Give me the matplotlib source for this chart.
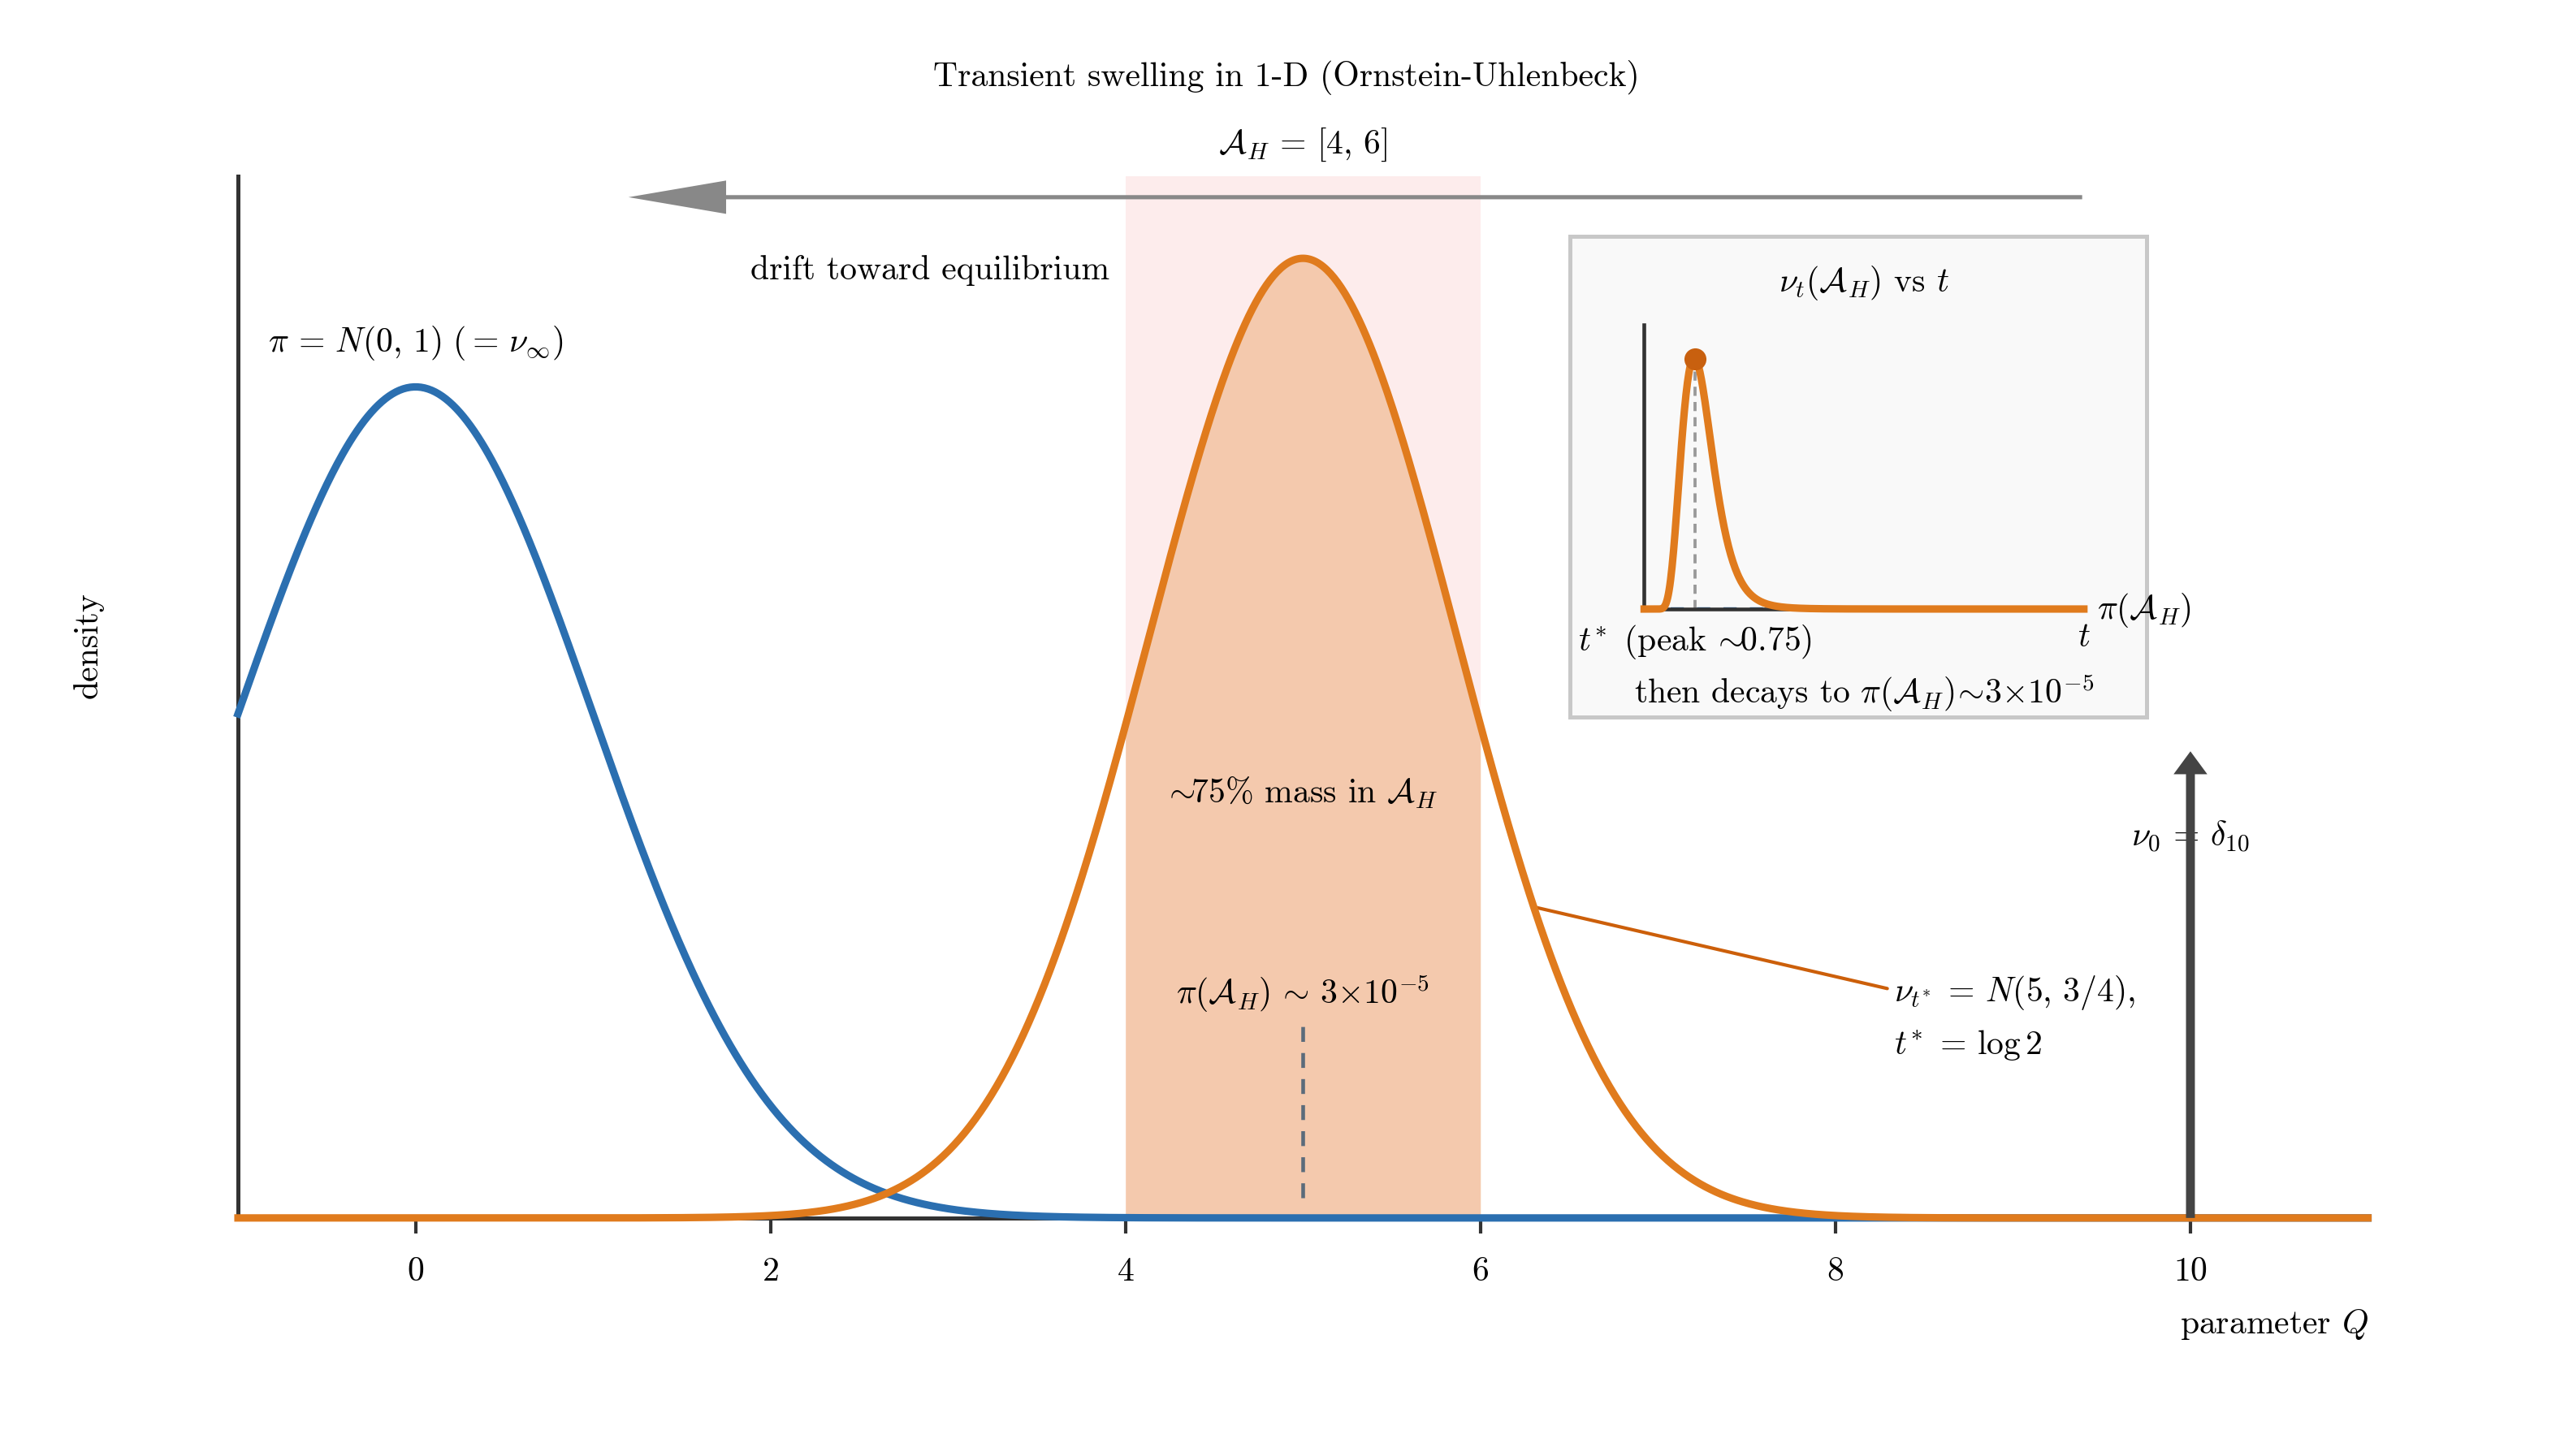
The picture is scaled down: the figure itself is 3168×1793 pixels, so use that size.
import math
import numpy as np
import matplotlib
matplotlib.use("Agg")
import matplotlib.pyplot as plt

plt.rcParams["font.family"] = "cmr10"
plt.rcParams["mathtext.fontset"] = "cm"
plt.rcParams["axes.formatter.use_mathtext"] = True
plt.rcParams["axes.unicode_minus"] = False
plt.rcParams["font.size"] = 10

# equilibrium and transient gaussians (mean, variance)
mu_eq, var_eq = 0.0, 1.0
mu_t, var_t = 5.0, 0.75
region = [4.0, 6.0]
x_start = 10.0          # nu_0 = delta_10
t_star = math.log(2)
peak_mass = 0.75
pi_region = 3e-5
x_ticks = [0, 2, 4, 6, 8, 10]

blue = "#2b6fb0"
orange = "#e07b1d"
dark = "#333333"


def normal_pdf(x, mu, var):
    return np.exp(-(x - mu) ** 2 / (2 * var)) / np.sqrt(2 * np.pi * var)


def ou_mass(t, lo, hi, x0):
    # probability of [lo, hi] under the OU law started at x0
    m = x0 * math.exp(-t)
    s = math.sqrt(1 - math.exp(-2 * t))
    cdf = lambda z: 0.5 * (1 + math.erf((z - m) / (s * math.sqrt(2))))
    return cdf(hi) - cdf(lo)


x = np.linspace(-1, 11, 1200)
y_eq = normal_pdf(x, mu_eq, var_eq)
y_t = normal_pdf(x, mu_t, var_t)

fig = plt.figure(figsize=(10.56, 5.9767), dpi=300)
ax = fig.add_axes([0.0925, 0.1635, 0.8278, 0.7869])

# shaded target set
ax.fill_between(region, 0, 0.5, color="#fdecec", lw=0, zorder=0)
xr = np.linspace(region[0], region[1], 200)
ax.fill_between(xr, 0, normal_pdf(xr, mu_t, var_t), color=orange, alpha=0.3, lw=0, zorder=1)

ax.plot(x, y_eq, color=blue, lw=2.2, clip_on=False, zorder=3)
ax.plot(x, y_t, color=orange, lw=2.2, clip_on=False, zorder=4)

ax.set_xlim(-1, 11)
ax.set_ylim(0, 0.55)
for s in ["top", "right"]:
    ax.spines[s].set_visible(False)
for s in ["left", "bottom"]:
    ax.spines[s].set_color(dark)
    ax.spines[s].set_linewidth(1.2)
ax.spines["left"].set_bounds(0, 0.5)
ax.set_yticks([])
ax.set_xticks(x_ticks)
ax.tick_params(axis="x", length=4.5, width=1.0, color=dark, pad=7)
ax.set_ylabel("density")
ax.yaxis.set_label_coords(-0.063, 0.5)
ax.set_xlabel("parameter $Q$", loc="right", labelpad=6)

# texts
fig.text(0.5, 0.947, "Transient swelling in 1-D (Ornstein-Uhlenbeck)", ha="center", va="center")
ax.text(5, 0.515, r"$\mathcal{A}_H\,=\,[4,\,6]$", ha="center", va="center")
ax.text(0, 0.42, r"$\pi\,=\,N(0,\,1)\ (=\,\nu_\infty)$", ha="center", va="center")
ax.text(2.9, 0.455, "drift toward equilibrium", ha="center", va="center")
ax.arrow(9.39, 0.49, 1.2 - 9.39, 0, width=0.002, head_width=0.016, head_length=0.55,
         length_includes_head=True, color="#888888", lw=0, zorder=5)

ax.text(5, 0.204, r"$\!\sim\!\!$75% mass in $\mathcal{A}_H$", ha="center", va="center", zorder=6)
ax.text(5, 0.108, r"$\pi(\mathcal{A}_H)\,\sim\,3{\times}10^{-5}$", ha="center", va="center", zorder=6)
ax.plot([5, 5], [0.0095, 0.092], color="#5b6b7b", lw=1.1, ls=(0, (4, 3)), zorder=6)

ax.annotate(r"$\nu_{t^{\!*}}\,=\,N(5,\,3/4),$" + "\n" + r"$t^{\!*}\,=\,\log 2$",
            xy=(6.3, normal_pdf(6.3, mu_t, var_t)), xytext=(8.33, 0.096),
            ha="left", va="center", linespacing=1.6,
            arrowprops=dict(arrowstyle="-", color="#cc5f0a", lw=1.0, shrinkA=0, shrinkB=0))

# dirac mass at the start
ax.text(x_start, 0.183, r"$\nu_0\,=\,\delta_{10}$", ha="center", va="center", zorder=6)
ax.arrow(x_start, 0, 0, 0.224, width=0.05, head_width=0.19, head_length=0.011,
         length_includes_head=True, color="#444444", lw=0, zorder=7)

# inset: mass of A_H over time
box = fig.add_axes([0.6103, 0.5073, 0.2239, 0.3303])
box.set_facecolor("#f9f9f9")
box.set_xticks([])
box.set_yticks([])
for s in box.spines.values():
    s.set_color("#c8c8c8")
    s.set_linewidth(1.2)
box.text(0.51, 0.904, r"$\nu_t(\mathcal{A}_H)$ vs $t$", ha="center", va="center", transform=box.transAxes)
box.text(0.51, 0.051, r"then decays to $\pi(\mathcal{A}_H)\!\sim\!3{\times}10^{-5}$",
         ha="center", va="center", transform=box.transAxes)
box.text(0.915, 0.222, r"$\pi(\mathcal{A}_H)$", ha="left", va="center", transform=box.transAxes)

ins = fig.add_axes([0.6390, 0.5817, 0.1709, 0.1950])
ins.patch.set_alpha(0)
t = np.linspace(1e-4, 6, 600)
mass = np.array([ou_mass(tt, region[0], region[1], x_start) for tt in t])
ins.axhline(pi_region, color=blue, lw=1.3, ls=(0, (3, 3)), zorder=2)
ins.plot([t_star, t_star], [0, peak_mass], color="#999999", lw=0.9, ls=(0, (3, 2)), zorder=2)
ins.plot(t, mass, color=orange, lw=2.2, zorder=3, clip_on=False)
ins.plot([t_star], [peak_mass], "o", color="#c8600f", ms=5.5, zorder=4, clip_on=False)
ins.set_xlim(0, 6)
ins.set_ylim(0, 0.85)
for s in ["top", "right"]:
    ins.spines[s].set_visible(False)
for s in ["left", "bottom"]:
    ins.spines[s].set_color(dark)
    ins.spines[s].set_linewidth(1.1)
ins.set_yticks([])
ins.set_xticks([t_star, 6])
ins.set_xticklabels([r"$t^{\!*}$ (peak $\!\sim\!\!$0.75)", r"$t$"])
ins.tick_params(axis="x", length=0, pad=4)

fig.savefig("out.png", dpi=300)
